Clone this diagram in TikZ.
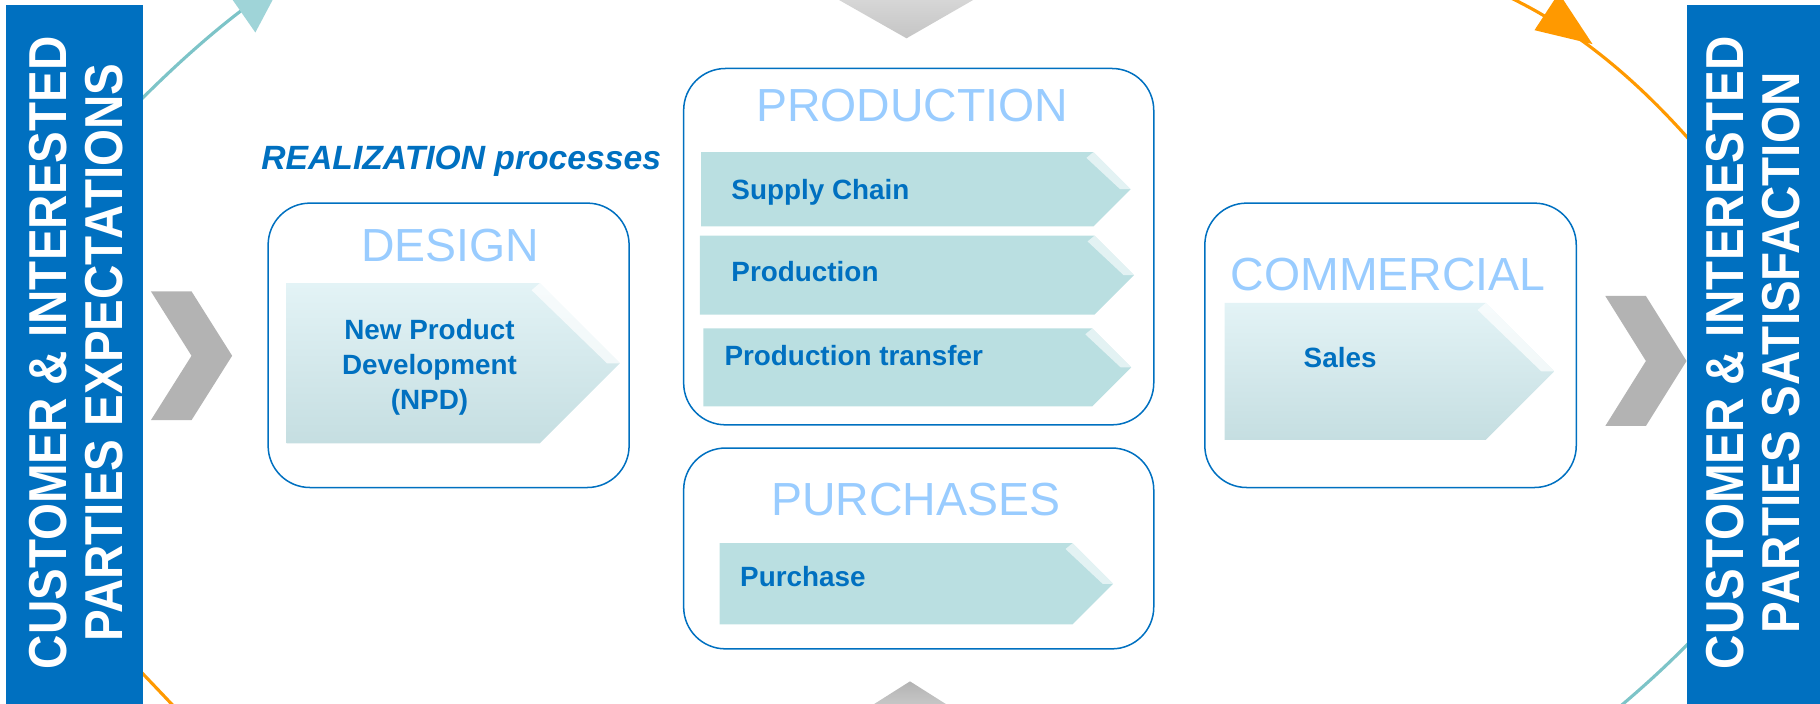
\documentclass[tikz,border=0pt]{standalone}
\usepackage{fontspec}
\setmainfont{Liberation Sans}
\usepackage{graphicx}
\usetikzlibrary{positioning}
\definecolor{qblue}{HTML}{0070C0}
\definecolor{titleblue}{HTML}{99CCFF}
\definecolor{chevgray}{HTML}{B3B3B3}
\definecolor{tealline}{HTML}{7DC4C8}
\definecolor{tealhead}{HTML}{9FD4D8}
\definecolor{cycleorange}{HTML}{FF9900}
\definecolor{procfill}{HTML}{BADFE1}
\definecolor{lighttop}{HTML}{E3F3F6}
\definecolor{lightbot}{HTML}{C5DEE1}

\begin{document}
\begin{tikzpicture}[x=1pt,y=-1pt]
                \tikzstyle{procbox}=[draw=qblue,line width=1.3pt,rounded corners=36pt,inner sep=0pt]
                \tikzstyle{title}=[font=\fontsize{40}{40}\selectfont,text=titleblue,inner sep=0pt,anchor=base]
                \tikzstyle{label}=[font=\fontsize{24}{30.5}\selectfont\bfseries,text=qblue,inner sep=0pt,anchor=base west]
                \tikzstyle{bartext}=[font=\fontsize{46}{48}\selectfont\bfseries,text=white,inner sep=0pt,align=center,rotate=90]
                \useasboundingbox (0,0) rectangle (1568,606);
                \clip (0,0) rectangle (1568,606);

                % cycle arcs behind everything
                \coordinate (tl-a) at (60,152);
                \coordinate (tl-b) at (212,6);
                \draw[tealline,line width=2.7pt] (tl-a) .. controls (105,100) and (160,45) .. (tl-b);
                \fill[tealhead] (181,-28) -- (220,28) -- (255,-38) -- cycle;
                \coordinate (tr-a) at (1268,-16);
                \coordinate (tr-b) at (1482,152);
                \draw[cycleorange,line width=2.7pt] (tr-a) .. controls (1345,12) and (1415,68) .. (tr-b);
                \fill[cycleorange] (1322,26) -- (1372,38) -- (1343,-6) -- cycle;
                \coordinate (bl-a) at (92,548);
                \coordinate (bl-b) at (168,628);
                \draw[cycleorange,line width=2.7pt] (bl-a) .. controls (115,572) and (140,598) .. (bl-b);
                \coordinate (br-a) at (1482,526);
                \coordinate (br-b) at (1372,628);
                \draw[tealline,line width=2.7pt] (br-a) .. controls (1452,558) and (1420,590) .. (br-b);

                % side bars
                \node[fill=qblue,minimum width=118pt,minimum height=620pt,inner sep=0pt] (expect) at (64,314) {};
                \node[bartext] (expect-text) at (65.5,304) {\scalebox{0.89}[1]{CUSTOMER \& INTERESTED}\\\scalebox{0.89}[1]{PARTIES EXPECTATIONS}};
                \node[fill=qblue,minimum width=118pt,minimum height=620pt,inner sep=0pt] (satisfy) at (1512,314) {};
                \node[bartext] (satisfy-text) at (1510.5,304) {\scalebox{0.89}[1]{CUSTOMER \& INTERESTED}\\\scalebox{0.89}[1]{PARTIES SATISFACTION}};

                % chevrons
                \fill[chevgray] (130,251) -- (165,251) -- (200,306.5) -- (165,362) -- (130,362) -- (165,306.5) -- cycle;
                \fill[chevgray] (1383,255) -- (1418,255) -- (1453,311) -- (1418,367) -- (1383,367) -- (1418,311) -- cycle;
                \shade[top color=chevgray!45,bottom color=chevgray!110!black] (700,-13) -- (781,33) -- (861,-13) -- cycle;
                \shade[top color=chevgray,bottom color=chevgray!60] (784,587) -- (735,618) -- (833,618) -- cycle;

                % process groups
                \node[procbox,minimum width=311pt,minimum height=245pt] (design) at (386.5,297.5) {};
                \node[procbox,minimum width=405pt,minimum height=307pt] (production) at (791.5,212.5) {};
                \node[procbox,minimum width=405pt,minimum height=173pt] (purchases) at (791.5,472.5) {};
                \node[procbox,minimum width=320pt,minimum height=245pt] (commercial) at (1198,297.5) {};

                \node[title] (design-title) at (388,225.5) {DESIGN};
                \node[title] (production-title) at (786,104.5) {PRODUCTION};
                \node[title] (purchases-title) at (789,444.5) {PURCHASES};
                \node[title] (commercial-title) at (1196,250.5) {COMMERCIAL};

                \node[font=\fontsize{29}{29}\selectfont\bfseries\itshape,text=qblue,inner sep=0pt,anchor=base west] (realization) at (225,146) {REALIZATION processes};

                % process arrows
                \foreach \xa/\xs/\ya/\yb in {247/465/244/382, 1055/1280/261/379}
                {
                    \shade[top color=lighttop,bottom color=lightbot] (\xa,\ya) -- (\xs,\ya) -- ({\xs+(\yb-\ya)/2},{(\ya+\yb)/2}) -- (\xs,\yb) -- (\xa,\yb) -- cycle;
                    \fill[white,opacity=0.7] (\xs-7,\ya+6) -- (\xs,\ya) -- ({\xs+(\yb-\ya)/2},{(\ya+\yb)/2}) -- ({\xs+(\yb-\ya)/2-11},{(\ya+\yb)/2}) -- cycle;
                }
                \foreach \xa/\xs/\ya/\yb in {604/942/131/195, 603/943/203/271, 606/941/283/350, 620/924/468/538}
                {
                    \fill[procfill] (\xa,\ya) -- (\xs,\ya) -- ({\xs+(\yb-\ya)/2},{(\ya+\yb)/2}) -- (\xs,\yb) -- (\xa,\yb) -- cycle;
                    \fill[white,opacity=0.6] (\xs-6,\ya+5) -- (\xs,\ya) -- ({\xs+(\yb-\ya)/2},{(\ya+\yb)/2}) -- ({\xs+(\yb-\ya)/2-9},{(\ya+\yb)/2}) -- cycle;
                }

                \node[font=\fontsize{24}{30.5}\selectfont\bfseries,text=qblue,inner sep=0pt,align=center] (npd) at (370,316.5) {New Product\\Development\\(NPD)};
                \node[label] (supply) at (630,172) {Supply Chain};
                \node[label] (prod) at (630,242.5) {Production};
                \node[label] (transfer) at (624,314.5) {Production transfer};
                \node[label] (purchase) at (637.5,505.5) {Purchase};
                \node[label] (sales) at (1123,317) {Sales};
\end{tikzpicture}
\end{document}
